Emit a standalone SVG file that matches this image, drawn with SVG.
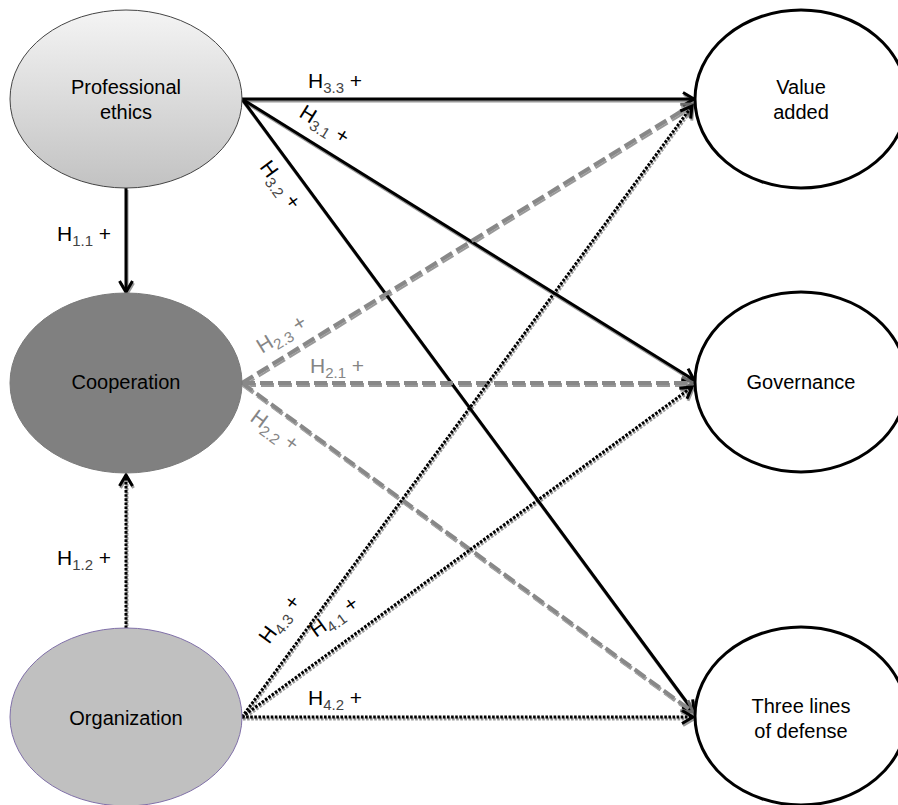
<svg xmlns="http://www.w3.org/2000/svg" width="898" height="805" viewBox="0 0 898 805">
<defs>
<linearGradient id="gPE" x1="0" y1="0" x2="0" y2="1">
<stop offset="0" stop-color="#f4f4f4"/>
<stop offset="1" stop-color="#c2c2c2"/>
</linearGradient>
<marker id="aBlk" markerUnits="userSpaceOnUse" markerWidth="20" markerHeight="20" viewBox="-16 -10 20 20" refX="0" refY="0" orient="auto">
<path d="M-11,-6.5 L0,0 L-11,6.5" fill="none" stroke="#000" stroke-width="3"/>
</marker>
<marker id="aGry" markerUnits="userSpaceOnUse" markerWidth="20" markerHeight="20" viewBox="-16 -10 20 20" refX="0" refY="0" orient="auto">
<path d="M-11,-6.5 L0,0 L-11,6.5" fill="none" stroke="#6a6a6a" stroke-width="3"/>
</marker>
<filter id="sh" x="-10%" y="-10%" width="120%" height="120%">
<feDropShadow dx="1" dy="2" stdDeviation="0.7" flood-color="#000" flood-opacity="0.4"/>
</filter>
</defs>
<style>
text{font-family:"Liberation Sans",Arial,sans-serif;}
.nt{font-size:20px;fill:#000;text-anchor:middle;}
.lb{font-size:21px;fill:#000;}
.lb .sub{fill:#444;}
.lg{font-size:21px;fill:#858585;}
.sub{font-size:15px;}
.solid{stroke:#000;stroke-width:3;fill:none;marker-end:url(#aBlk);}
.dash{stroke:#888;stroke-width:4;stroke-dasharray:13 5;fill:none;marker-end:url(#aGry);}
.dot{stroke:#000;stroke-width:3;stroke-dasharray:2.6 1.5;fill:none;marker-end:url(#aBlk);}
.outN{fill:#fff;stroke:#000;stroke-width:3;}
</style>
<rect width="898" height="805" fill="#fff"/>

<g id="connectors" filter="url(#sh)">
<line class="solid" x1="126" y1="188" x2="126" y2="292"/>
<line class="dot" x1="126" y1="628" x2="126" y2="475"/>
<line class="solid" x1="242" y1="99" x2="694" y2="99"/>
<line class="solid" x1="242" y1="99" x2="694" y2="380"/>
<line class="solid" x1="242" y1="99" x2="694" y2="712"/>
<line class="dash" x1="242" y1="383" x2="693" y2="104"/>
<line class="dash" x1="242" y1="383" x2="693" y2="383"/>
<line class="dash" x1="242" y1="383" x2="693" y2="712"/>
<line class="dot" x1="242" y1="717" x2="692" y2="106"/>
<line class="dot" x1="242" y1="717" x2="692" y2="387"/>
<line class="dot" x1="242" y1="717" x2="693" y2="717"/>
</g>

<g id="labels">
<text class="lb" x="308" y="88">H<tspan class="sub" dy="5">3.3</tspan><tspan dy="-5"> +</tspan></text>
<text class="lb" transform="translate(298,116) rotate(32)">H<tspan class="sub" dy="5">3.1</tspan><tspan dy="-5"> +</tspan></text>
<text class="lb" transform="translate(259,167) rotate(53.7)">H<tspan class="sub" dy="5">3.2</tspan><tspan dy="-5"> +</tspan></text>
<text class="lb" x="57" y="241">H<tspan class="sub" dy="5">1.1</tspan><tspan dy="-5"> +</tspan></text>
<text class="lb" x="57" y="565">H<tspan class="sub" dy="5">1.2</tspan><tspan dy="-5"> +</tspan></text>
<text class="lg" transform="translate(262,354) rotate(-31.5)">H<tspan class="sub" dy="5">2.3</tspan><tspan dy="-5"> +</tspan></text>
<text class="lg" x="310" y="373">H<tspan class="sub" dy="5">2.1</tspan><tspan dy="-5"> +</tspan></text>
<text class="lg" transform="translate(249,420) rotate(36.3)">H<tspan class="sub" dy="5">2.2</tspan><tspan dy="-5"> +</tspan></text>
<text class="lb" transform="translate(269,645) rotate(-53.5)">H<tspan class="sub" dy="5">4.3</tspan><tspan dy="-5"> +</tspan></text>
<text class="lb" transform="translate(316,638) rotate(-35.8)">H<tspan class="sub" dy="5">4.1</tspan><tspan dy="-5"> +</tspan></text>
<text class="lb" x="308" y="705">H<tspan class="sub" dy="5">4.2</tspan><tspan dy="-5"> +</tspan></text>
</g>

<g id="professional-ethics">
<ellipse cx="126" cy="99" rx="116" ry="89" fill="url(#gPE)" stroke="#444" stroke-width="1"/>
<text class="nt" x="126" y="94">Professional</text>
<text class="nt" x="126" y="119">ethics</text>
</g>
<g id="cooperation">
<ellipse cx="126" cy="383" rx="116" ry="90" fill="#808080" stroke="#7a7a7a" stroke-width="1"/>
<text class="nt" x="126" y="389" fill="#1a1a1a">Cooperation</text>
</g>
<g id="organization">
<ellipse cx="126" cy="717" rx="116" ry="89" fill="#c0c0c0" stroke="#8070a8" stroke-width="1"/>
<text class="nt" x="126" y="725">Organization</text>
</g>
<g id="value-added">
<ellipse class="outN" cx="801" cy="99" rx="106" ry="89"/>
<text class="nt" x="801" y="94">Value</text>
<text class="nt" x="801" y="119">added</text>
</g>
<g id="governance">
<ellipse class="outN" cx="801" cy="382" rx="106" ry="90"/>
<text class="nt" x="801" y="389">Governance</text>
</g>
<g id="three-lines-of-defense">
<ellipse class="outN" cx="801" cy="716" rx="106" ry="89"/>
<text class="nt" x="801" y="713">Three lines</text>
<text class="nt" x="801" y="738">of defense</text>
</g>
</svg>
